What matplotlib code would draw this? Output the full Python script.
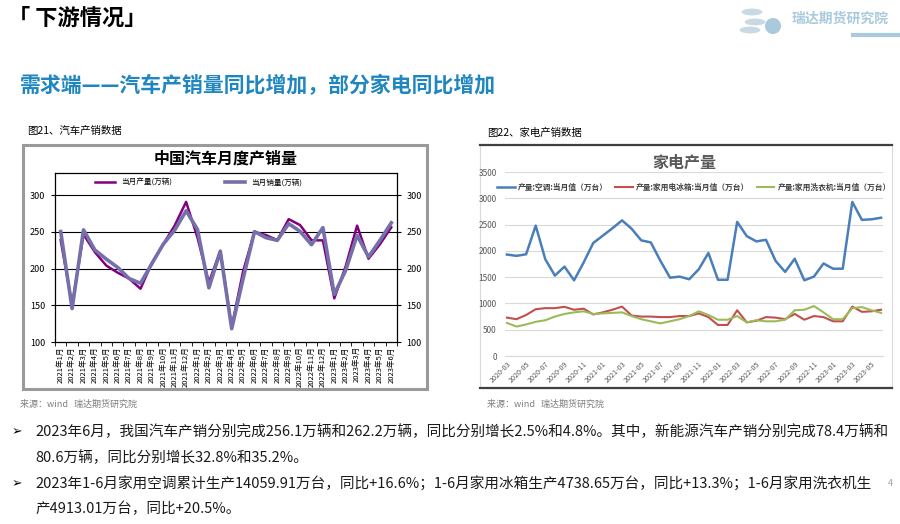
import numpy as np
import matplotlib
matplotlib.use("Agg")
import matplotlib.pyplot as plt
from matplotlib.patches import Rectangle, Ellipse
from matplotlib.lines import Line2D

plt.rcParams['font.family'] = ['Noto Sans CJK SC', 'DejaVu Sans']
plt.rcParams['axes.unicode_minus'] = False

# --- car data (万辆), 2021-01 .. 2023-06
car_months = [f"{y}年{m}月" for y in (2021, 2022) for m in range(1, 13)] + \
             [f"2023年{m}月" for m in range(1, 7)]
car_prod = [238.8, 150.3, 246.4, 222.2, 204.0, 194.3, 186.3, 172.5, 207.7, 233.1, 258.5, 290.7,
            242.1, 181.1, 224.1, 120.5, 196.2, 249.9, 245.5, 238.7, 267.2, 259.1, 238.5, 238.3,
            159.4, 203.2, 258.4, 213.3, 233.0, 256.1]
car_sales = [250.3, 145.5, 252.6, 225.2, 212.8, 201.5, 186.4, 179.9, 206.7, 233.2, 252.2, 278.6,
             253.1, 173.7, 223.4, 118.1, 186.2, 250.2, 242.0, 238.3, 261.0, 250.5, 232.4, 255.6,
             164.9, 197.6, 245.1, 215.9, 238.2, 262.2]

# --- appliance data (万台), 2020-03 .. 2023-06
app_months = [f"{y}-{m:02d}" for y in (2020,) for m in range(3, 13)] + \
             [f"{y}-{m:02d}" for y in (2021, 2022) for m in range(1, 13)] + \
             [f"2023-{m:02d}" for m in range(1, 7)]
ac = [1930, 1905, 1935, 2480, 1840, 1530, 1700, 1440, 1780, 2150,
      2290, 2430, 2580, 2420, 2200, 2160, 1810, 1490, 1510, 1460, 1650, 1960,
      1450, 1450, 2550, 2280, 2180, 2210, 1810, 1600, 1850, 1440, 1510, 1760,
      1660, 1660, 2930, 2590, 2600, 2630]
fridge = [730, 700, 780, 890, 910, 910, 935, 880, 900, 790,
          830, 880, 940, 770, 750, 750, 740, 740, 760, 760, 810, 740,
          590, 590, 870, 640, 670, 740, 730, 700, 800, 690, 760, 740,
          660, 660, 940, 840, 850, 880]
washer = [630, 560, 600, 650, 680, 750, 800, 830, 850, 800,
          810, 820, 830, 760, 700, 660, 620, 660, 700, 760, 850, 780,
          690, 690, 760, 640, 680, 660, 660, 690, 870, 880, 950, 830,
          700, 700, 910, 930, 870, 820]

W, H = 900, 524
fig = plt.figure(figsize=(9, 5.24), dpi=100)


def fx(x):
    return x / W


def fy(y):
    return 1 - y / H


# header
fig.text(fx(8), fy(18), "「 下游情况」", fontsize=16, fontweight='bold', va='center', ha='left')
fig.text(fx(889), fy(19), "瑞达期货研究院", fontsize=10, fontweight='bold', style='italic',
         color='#a9c9dc', va='center', ha='right')
for cx, cy in [(752, 12), (755, 22), (750, 30)]:
    fig.patches.append(Ellipse((fx(cx), fy(cy)), fx(22), 8 / H, transform=fig.transFigure,
                               facecolor='#c9d9e3', edgecolor='white', lw=0.8))
fig.patches.append(Ellipse((fx(773), fy(26)), fx(16), 16 / H, transform=fig.transFigure,
                           facecolor='#a9c9dc', edgecolor='none'))
fig.lines.append(Line2D([fx(853), fx(900)], [fy(35), fy(35)], transform=fig.transFigure,
                        color='#a9c9dc', lw=3))
fig.text(fx(20), fy(85), "需求端——汽车产销量同比增加，部分家电同比增加", fontsize=15,
         fontweight='bold', color='#1f86c0', va='center', ha='left')

fig.text(fx(27), fy(131), "图21、汽车产销数据", fontsize=7.5, va='center', ha='left')
fig.text(fx(487), fy(133), "图22、家电产销数据", fontsize=7.5, va='center', ha='left')

# ---------------- left chart ----------------
fig.patches.append(Rectangle((fx(23), fy(389)), fx(404), (389 - 145) / H, transform=fig.transFigure,
                             facecolor='white', edgecolor='#9a9a9a', lw=2.2, zorder=-5))
fig.text(fx(226), fy(159), "中国汽车月度产销量", fontsize=11.5, fontweight='bold', ha='center', va='center')

ax1 = fig.add_axes([fx(55), fy(342), fx(397 - 55), (342 - 173) / H])
ax1.patch.set_alpha(0)
x1 = np.arange(len(car_months))
ax1.plot(x1, car_prod, color='#800080', lw=1.8, label='当月产量(万辆)', zorder=3)
ax1.plot(x1, car_sales, color='#7670aa', lw=2.6, label='当月销量(万辆)', zorder=4)
ax1.set_xlim(-0.5, len(car_months) - 0.5)
ax1.set_ylim(100, 330)
ax1.set_yticks([100, 150, 200, 250, 300])
for v in [150, 200, 250, 300]:
    ax1.axhline(v, color='black', lw=0.8, zorder=1)
ax1.set_xticks(x1)
ax1.set_xticklabels(car_months, rotation=90, fontsize=5.5)
ax1.set_xticks(np.arange(-0.5, len(car_months)), minor=True)
ax1.tick_params(axis='x', which='major', length=0, pad=3)
ax1.tick_params(axis='x', which='minor', length=3, direction='out')
ax1.tick_params(axis='y', labelsize=6.5, labelright=True, right=True, length=3, pad=4)
for s in ax1.spines.values():
    s.set_color('black')
    s.set_linewidth(0.9)
ax1.legend(loc='upper center', bbox_to_anchor=(0.42, 1.01), ncol=2, frameon=False,
           fontsize=5.5, columnspacing=7, handlelength=2.6)

# ---------------- right chart ----------------
fig.patches.append(Rectangle((fx(480), fy(388)), fx(412), (388 - 145) / H, transform=fig.transFigure,
                             facecolor='white', edgecolor='#d9d9d9', lw=0.8, zorder=-5))
for yy in (145, 388):
    fig.lines.append(Line2D([fx(480), fx(892)], [fy(yy), fy(yy)], transform=fig.transFigure,
                            color='#404040', lw=1.6))
fig.text(fx(684), fy(163), "家电产量", fontsize=11.5, fontweight='bold', color='#595959',
         ha='center', va='center')

ax2 = fig.add_axes([fx(505), fy(356), fx(883 - 505), (356 - 172) / H])
ax2.patch.set_alpha(0)
x2 = np.arange(len(app_months))
ax2.plot(x2, ac, color='#4a7ebb', lw=1.8, label='产量:空调:当月值（万台）', zorder=3)
ax2.plot(x2, fridge, color='#c0504d', lw=1.5, label='产量:家用电冰箱:当月值（万台）', zorder=4)
ax2.plot(x2, washer, color='#9bbb59', lw=1.5, label='产量:家用洗衣机:当月值（万台）', zorder=5)
ax2.set_xlim(-0.2, len(app_months) - 0.8)
ax2.set_ylim(0, 3500)
ax2.set_yticks(range(0, 3501, 500))
ax2.grid(axis='y', color='#d9d9d9', lw=0.8)
ax2.set_axisbelow(True)
ax2.set_xticks(x2[::2])
ax2.set_xticklabels(app_months[::2], rotation=45, ha='right', rotation_mode='anchor', fontsize=5.2,
                    color='#595959')
ax2.tick_params(axis='x', length=0, pad=3)
ax2.tick_params(axis='y', length=0, labelsize=6, labelcolor='#595959', pad=6)
for k in ('top', 'right', 'left'):
    ax2.spines[k].set_visible(False)
ax2.spines['bottom'].set_color('#d9d9d9')
leg2 = ax2.legend(loc='upper center', bbox_to_anchor=(0.5, 0.98), ncol=3, frameon=False,
                  fontsize=5.6, columnspacing=0.9, handlelength=2.3, handletextpad=0.4)
for t in leg2.get_texts():
    t.set_fontweight('bold')
    t.set_color('#404040')

# ---------------- footer text ----------------
fig.text(fx(20), fy(404), "来源：wind   瑞达期货研究院", fontsize=6.5, color='#7f7f7f', va='center')
fig.text(fx(487), fy(404), "来源：wind   瑞达期货研究院", fontsize=6.5, color='#7f7f7f', va='center')

lines = [
    (432, True, "2023年6月，我国汽车产销分别完成256.1万辆和262.2万辆，同比分别增长2.5%和4.8%。其中，新能源汽车产销分别完成78.4万辆和"),
    (458, False, "80.6万辆，同比分别增长32.8%和35.2%。"),
    (484, True, "2023年1-6月家用空调累计生产14059.91万台，同比+16.6%；1-6月家用冰箱生产4738.65万台，同比+13.3%；1-6月家用洗衣机生"),
    (509, False, "产4913.01万台，同比+20.5%。"),
]
for y, bullet, txt in lines:
    if bullet:
        fig.text(fx(12), fy(y), "➢", fontsize=9, va='center', ha='left', family=['DejaVu Sans'])
    fig.text(fx(35), fy(y), txt, fontsize=10.5, va='center', ha='left', color='#1a1a1a')
fig.text(fx(888), fy(484), "4", fontsize=6.5, color='#a0a0a0', va='center')

fig.savefig('out.png', dpi=100)
